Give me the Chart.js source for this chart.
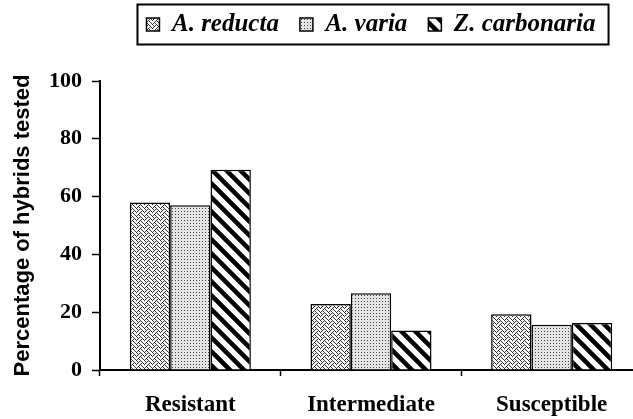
<!DOCTYPE html>
<html>
<head>
<meta charset="utf-8">
<script src="https://cdn.jsdelivr.net/npm/chart.js@4/dist/chart.umd.min.js"></script>
<style>
  html, body { margin: 0; padding: 0; background: #fff; overflow: hidden; }
  #wrap { position: absolute; left: 0; top: 0; width: 650px; height: 419px; }
</style>
</head>
<body>
<div id="wrap"><canvas id="chart" width="650" height="419"></canvas></div>
<script>
// data
const categories = ["Resistant", "Intermediate", "Susceptible"];
const seriesNames = ["A. reducta", "A. varia", "Z. carbonaria"];
const reductaValues = [58, 22.8, 19.3];
const variaValues = [57, 26.6, 15.7];
const carbonariaValues = [69.3, 13.7, 16.3];
const yTickLabels = [0, 20, 40, 60, 80, 100];

// fill patterns like the old excel hatches
function weavePattern() {
  const bits = [0x88, 0x54, 0x22, 0x45, 0x88, 0x14, 0x22, 0x51];
  const c = document.createElement("canvas");
  c.width = 8; c.height = 8;
  const g = c.getContext("2d");
  g.fillStyle = "#fafafa";
  g.fillRect(0, 0, 8, 8);
  g.fillStyle = "#333";
  for (let r = 0; r < 8; r++) {
    for (let k = 0; k < 8; k++) {
      if (bits[r] & (0x80 >> k)) g.fillRect(k, r, 1, 1);
    }
  }
  return g.createPattern(c, "repeat");
}

function dotPattern() {
  const c = document.createElement("canvas");
  c.width = 3; c.height = 3;
  const g = c.getContext("2d");
  g.fillStyle = "#e4e4e4";
  g.fillRect(0, 0, 3, 3);
  g.fillStyle = "#4a4a4a";
  g.fillRect(1, 1, 1, 1);
  return g.createPattern(c, "repeat");
}

function stripePattern() {
  const s = 14;
  const c = document.createElement("canvas");
  c.width = s; c.height = s;
  const g = c.getContext("2d");
  g.fillStyle = "#fff";
  g.fillRect(0, 0, s, s);
  g.strokeStyle = "#000";
  g.lineWidth = 4.5;
  for (const off of [-s, 0, s]) {
    g.beginPath();
    g.moveTo(off - 2, -2);
    g.lineTo(off + s + 2, s + 2);
    g.stroke();
  }
  return g.createPattern(c, "repeat");
}

// stretch the legend so the plot starts lower, then frame it
const legendTweak = {
  id: "legendTweak",
  beforeInit(chart) {
    const fit = chart.legend.fit;
    chart.legend.fit = function () {
      fit.bind(chart.legend)();
      this.height = 90;
    };
  },
  afterDraw(chart) {
    const boxes = chart.legend.legendHitBoxes;
    if (!boxes || !boxes.length) return;
    const first = boxes[0];
    const last = boxes[boxes.length - 1];
    const cy = first.top + first.height / 2;
    const ctx = chart.ctx;
    ctx.save();
    ctx.strokeStyle = "#000";
    ctx.lineWidth = 2;
    ctx.strokeRect(first.left - 9, cy - 20, last.left + last.width + 13 - (first.left - 9), 40);
    ctx.restore();
  }
};

Chart.defaults.color = "#000";

new Chart(document.getElementById("chart"), {
  type: "bar",
  data: {
    labels: categories,
    datasets: [
      { label: seriesNames[0], data: reductaValues, backgroundColor: weavePattern() },
      { label: seriesNames[1], data: variaValues, backgroundColor: dotPattern() },
      { label: seriesNames[2], data: carbonariaValues, backgroundColor: stripePattern() }
    ].map(d => Object.assign(d, {
      borderColor: "#000",
      borderWidth: 1.5,
      categoryPercentage: 0.67,
      barPercentage: 1.0
    }))
  },
  options: {
    responsive: false,
    animation: false,
    layout: { padding: { top: -9, right: 8, left: 0, bottom: 0 } },
    plugins: {
      legend: {
        position: "top",
        fullSize: false,
        labels: {
          boxWidth: 13,
          boxHeight: 13,
          padding: 21,
          color: "#000",
          font: { family: "Liberation Serif", size: 25, weight: "bold", style: "italic" }
        }
      },
      tooltip: { enabled: false }
    },
    scales: {
      x: {
        offset: true,
        afterFit(scale) { scale.height = 49; },
        grid: {
          offset: true,
          drawOnChartArea: false,
          tickLength: 6,
          tickColor: "#000",
          tickWidth: 1.5
        },
        border: { color: "#000", width: 2 },
        ticks: {
          padding: 15,
          color: "#000",
          font: { family: "Liberation Serif", size: 23, weight: "bold" }
        }
      },
      y: {
        min: 0,
        max: 100,
        afterFit(scale) { scale.width = 100; },
        title: {
          display: true,
          text: "Percentage of hybrids tested",
          color: "#000",
          padding: { top: 10, bottom: 0 },
          font: { family: "Liberation Sans", size: 22, weight: "bold" }
        },
        grid: {
          drawOnChartArea: false,
          tickLength: 8,
          tickColor: "#000",
          tickWidth: 1.5
        },
        border: { color: "#000", width: 2 },
        ticks: {
          stepSize: 10,
          padding: 10,
          color: "#000",
          font: { family: "Liberation Serif", size: 22, weight: "bold" },
          callback: v => (yTickLabels.includes(v) ? v : "")
        }
      }
    }
  },
  plugins: [legendTweak]
});
</script>
</body>
</html>
